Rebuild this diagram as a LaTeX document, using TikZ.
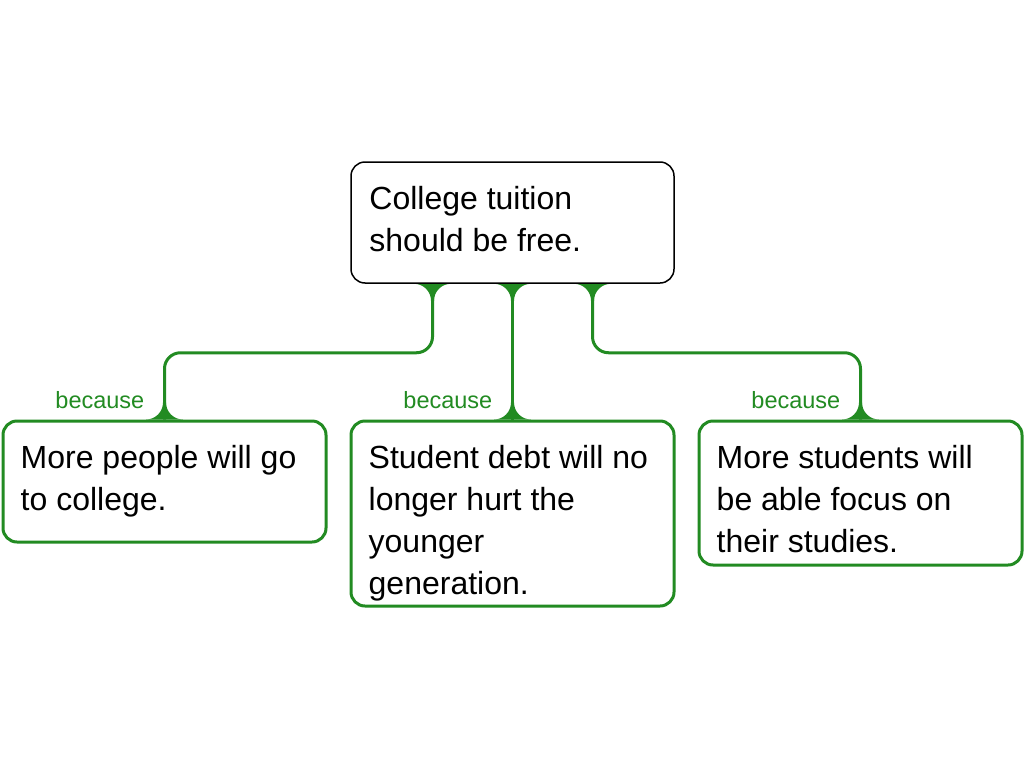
\documentclass[tikz,border=0pt]{standalone}
\usepackage{fontspec}
\setmainfont{Liberation Sans}
\usetikzlibrary{calc,backgrounds}

\definecolor{linkgreen}{RGB}{34,139,34}

\tikzset{
  claim box/.style={draw=black,line width=1.5pt,fill=white,rounded corners=14pt,
    minimum width=323pt,inner sep=0pt},
  reason box/.style={draw=linkgreen,line width=3pt,fill=white,rounded corners=14pt,
    minimum width=323pt,inner sep=0pt},
  box text/.style={anchor=north west,inner sep=0pt,align=left,
    font=\fontsize{32}{42}\selectfont},
  because label/.style={anchor=base east,inner sep=0pt,text=linkgreen,
    font=\fontsize{23.5}{27}\selectfont},
  link/.style={draw=linkgreen,line width=3pt,rounded corners=16pt},
  pics/flare/.style={code={
    \fill[linkgreen] (-18.5,0) .. controls (-9.1,0) and (-1.5,7.6) .. (-1.5,17)
      -- (1.5,17) .. controls (1.5,7.6) and (9.1,0) .. (18.5,0) -- cycle;
  }}
}

\begin{document}
\begin{tikzpicture}[x=1pt,y=-1pt]
  \useasboundingbox (0,0) rectangle (1024,768);

  % boxes
  \node[claim box,minimum height=121pt] (claim) at (512.5,222.5) {};
  \node[reason box,minimum height=121pt] (r1) at (164.5,481.5) {};
  \node[reason box,minimum height=185pt] (r2) at (512.5,513.5) {};
  \node[reason box,minimum height=144pt] (r3) at (860.5,493) {};

  % texts
  \node[box text] (claim text) at ($(claim.north west)+(19,25)$)
    {College tuition\\should be free.};
  \node[box text] (r1 text) at ($(r1.north west)+(19,25.5)$)
    {More people will go\\to college.};
  \node[box text] (r2 text) at ($(r2.north west)+(19,25.5)$)
    {Student debt will no\\longer hurt the\\younger\\generation.};
  \node[box text] (r3 text) at ($(r3.north west)+(19,25.5)$)
    {More students will\\be able focus on\\their studies.};

  % labels
  \node[because label] (l1) at ($(r1.north)+(-20,-11)$) {because};
  \node[because label] (l2) at ($(r2.north)+(-20,-11)$) {because};
  \node[because label] (l3) at ($(r3.north)+(-20,-11)$) {because};

  % connectors
  \begin{pgfonlayer}{background}
    \coordinate (c1) at ($(claim.south)+(-80,0)$);
    \coordinate (c3) at ($(claim.south)+(80,0)$);
    \draw[link] (c1) -- ++(0,69) -| (r1.north);
    \draw[link] (claim.south) -- (r2.north);
    \draw[link] (c3) -- ++(0,69) -| (r3.north);
    \pic at (c1) {flare};
    \pic at (claim.south) {flare};
    \pic at (c3) {flare};
    \pic[yscale=-1] at (r1.north) {flare};
    \pic[yscale=-1] at (r2.north) {flare};
    \pic[yscale=-1] at (r3.north) {flare};
  \end{pgfonlayer}
\end{tikzpicture}
\end{document}
